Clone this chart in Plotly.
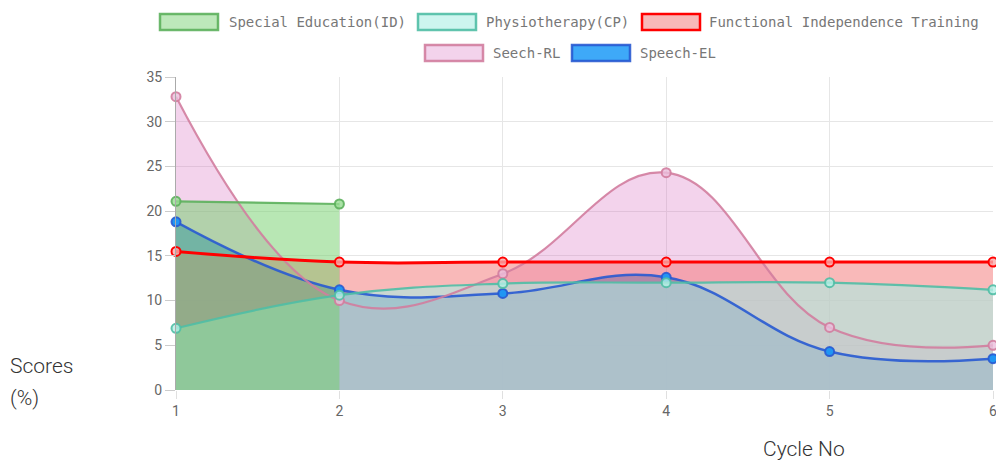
import plotly.graph_objects as go

cycles = [1, 2, 3, 4, 5, 6]
special_education = [21.1, 20.8]
physiotherapy = [6.9, 10.6, 11.9, 12.0, 12.0, 11.2]
functional_independence = [15.5, 14.3, 14.3, 14.3, 14.3, 14.3]
seech_rl = [32.8, 10.0, 13.0, 24.3, 7.0, 5.0]
speech_el = [18.8, 11.2, 10.8, 12.6, 4.3, 3.5]

series_names = ["Special Education(ID)", "Physiotherapy(CP)", "Functional Independence Training",
                "Seech-RL", "Speech-EL"]
series_values = [special_education, physiotherapy, functional_independence, seech_rl, speech_el]
fills = ["rgba(113,207,105,0.5)", "rgba(167,237,227,0.57)", "rgba(243,115,115,0.5)",
         "rgba(215,108,192,0.3)", "rgba(54,162,235,0.9)"]
lines = ["rgba(92,176,92,0.9)", "rgba(80,190,165,0.9)", "#ff0000", "rgba(210,125,158,0.9)",
         "rgba(40,90,210,0.9)"]
marker_fills = ["rgba(150,220,145,0.8)", "rgba(180,240,230,0.8)", "rgba(250,170,170,0.8)",
                "rgba(235,190,220,0.8)", "#2196f3"]
widths = [2.2, 2.2, 3, 2.2, 2.5]
legend_fills = ["#bde8ba", "#cdf5ef", "#f8b8b8", "#f3d3ec", "#3ea9f8"]

W, H = 996, 462
L, R, T, B = 176, 3, 77, 72
pw, ph = W - L - R, H - T - B


def px(x):
    return (x - L) / pw


def py(y):
    return (H - B - y) / ph


fig = go.Figure()
SM = 1.15
# Chart.js 2: all fills first (last dataset at bottom), then all lines
for i in reversed(range(len(series_names))):
    vals = series_values[i]
    fig.add_trace(go.Scatter(
        x=cycles[:len(vals)], y=vals, mode="lines", fill="tozeroy", fillcolor=fills[i],
        line=dict(color="rgba(0,0,0,0)", width=0, shape="spline", smoothing=SM),
        showlegend=False, hoverinfo="skip",
    ))
for i in reversed(range(len(series_names))):
    vals = series_values[i]
    fig.add_trace(go.Scatter(
        x=cycles[:len(vals)], y=vals, name=series_names[i], mode="lines+markers",
        line=dict(color=lines[i], width=widths[i], shape="spline", smoothing=SM),
        marker=dict(size=9, color=marker_fills[i], line=dict(color=lines[i], width=2)),
        showlegend=False, cliponaxis=False,
    ))

# Custom legend (Chart.js style boxes)
legend_items = [
    (160, 218, 22, 227),
    (418, 476, 22, 484),
    (642, 700, 22, 707),
    (425, 483, 53, 491),
    (572, 630, 53, 638),
]
shapes = []
annotations = []
for i, (x0, x1, yc, tx) in enumerate(legend_items):
    shapes.append(dict(type="rect", xref="paper", yref="paper",
                       x0=px(x0), x1=px(x1), y0=py(yc - 8), y1=py(yc + 8),
                       fillcolor=legend_fills[i], line=dict(color=lines[i], width=2.5)))
    annotations.append(dict(text=series_names[i], xref="paper", yref="paper",
                            x=px(tx), y=py(yc), xanchor="left", yanchor="middle",
                            showarrow=False,
                            font=dict(family="DejaVu Sans Mono", size=14, color="#777")))

annotations.append(dict(text="Scores", xref="paper", yref="paper", x=px(8), y=py(366),
                        xanchor="left", yanchor="middle", showarrow=False,
                        font=dict(family="Roboto", size=21, color="#333", weight=300)))
annotations.append(dict(text="(%)", xref="paper", yref="paper", x=px(8), y=py(398),
                        xanchor="left", yanchor="middle", showarrow=False,
                        font=dict(family="Roboto", size=21, color="#333", weight=300)))
annotations.append(dict(text="Cycle No", xref="paper", yref="paper", x=px(804), y=py(449),
                        xanchor="center", yanchor="middle", showarrow=False,
                        font=dict(family="Roboto", size=21, color="#333", weight=300)))

fig.update_layout(
    width=W, height=H,
    margin=dict(l=L, r=R, t=T, b=B, autoexpand=False),
    paper_bgcolor="white", plot_bgcolor="white",
    shapes=shapes, annotations=annotations,
    showlegend=False,
    xaxis=dict(range=[1, 6], tickvals=cycles, ticktext=[str(c) for c in cycles],
               showgrid=True, gridcolor="#e6e6e6", gridwidth=1, automargin=False,
               zeroline=False, showline=False, ticklabeloverflow="allow",
               ticks="outside", ticklen=8, tickcolor="#e0e0e0",
               tickfont=dict(family="Roboto", size=14, color="#666")),
    yaxis=dict(range=[0, 35], tickvals=[0, 5, 10, 15, 20, 25, 30, 35],
               showgrid=True, gridcolor="#e6e6e6", gridwidth=1, automargin=False,
               zeroline=False, showline=True, linecolor="#aaa", linewidth=1,
               ticks="outside", ticklen=10, tickcolor="#ccc",
               tickfont=dict(family="Roboto", size=14, color="#666")),
)

fig.write_html("out.html", config={"displayModeBar": False},
               post_script="document.body.style.margin='0';document.body.style.overflow='hidden';")
